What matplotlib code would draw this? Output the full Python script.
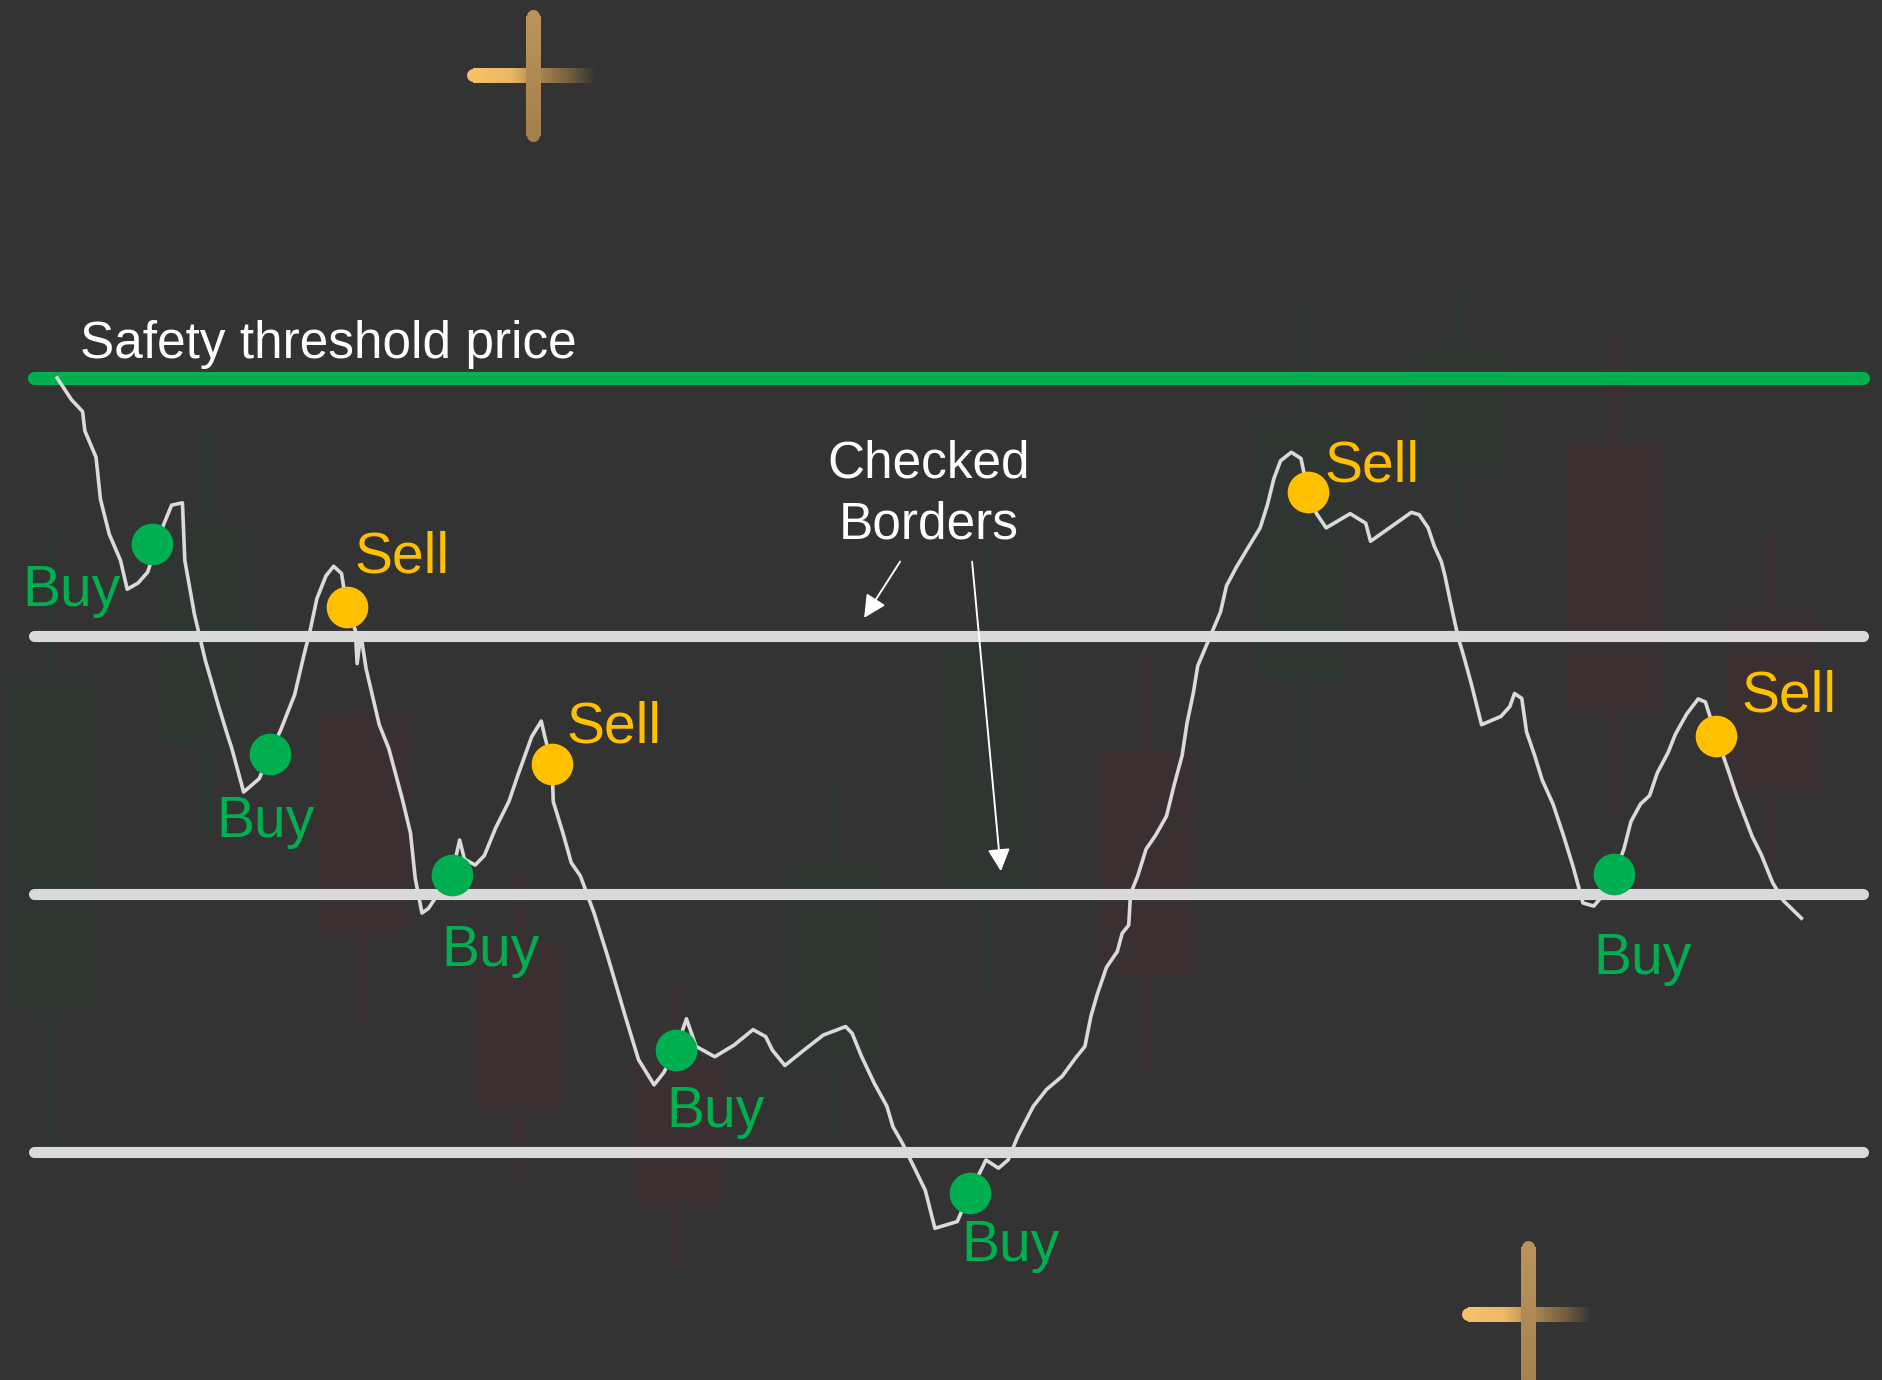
import numpy as np
import matplotlib.pyplot as plt
from matplotlib.collections import LineCollection
from matplotlib.colors import LinearSegmentedColormap

plt.rcParams['font.family'] = ['Liberation Sans', 'DejaVu Sans']

# --- price path (time units, price units) ---
time = [4.76, 5.95, 6.88, 7.07, 8.0, 8.37, 9.1, 10.04, 10.6, 11.5,
        12.3, 13.6, 14.3, 15.2, 15.4, 16.2, 17.1, 18.2, 19.0, 19.3,
        20.3, 21.6, 22.5, 23.4, 24.55, 25.3, 25.85, 26.4, 27.16, 27.8,
        28.46, 28.9, 29.6, 29.76, 30.06, 30.5, 31.6, 32.4, 33.5, 34.2,
        34.6, 35.16, 35.7, 36.3, 37.65, 38.3, 38.7, 39.6, 40.36, 41.3,
        42.4, 43.15, 44.3, 45.1, 45.4, 46.0, 46.1, 46.9, 47.6, 48.36,
        49.5, 50.6, 51.3, 52.1, 53.2, 54.5, 55.3, 56.3, 57.2, 58.0,
        59.56, 61.16, 62.75, 63.8, 64.35, 65.4, 67.0, 68.6, 70.46, 71.0,
        71.8, 72.85, 73.9, 74.4, 75.2, 76.0, 77.1, 77.9, 79.76, 80.8,
        81.9, 82.15, 83.2, 84.0, 84.8, 86.1, 87.2, 88.5, 89.6, 90.4,
        90.9, 91.45, 92.2, 93.1, 93.5, 94.05, 94.2, 94.8, 95.5, 96.3,
        97.2, 97.8, 98.5, 98.9, 99.44, 99.8, 100.74, 101.7, 102.2, 103.0,
        103.9, 105.0, 105.6, 106.14, 106.7, 107.6, 108.4, 109.0, 109.7, 110.5,
        112.5, 113.8, 114.2, 117.6, 118.25, 119.0, 119.5, 120.1, 120.4, 121.03,
        121.5, 122.0, 122.6, 123.45, 125.06, 125.8, 126.2, 126.8, 127.2, 127.85,
        128.5, 129.4, 130.3, 131.1, 131.9, 132.8, 133.4, 134.5, 135.3, 135.9,
        136.7, 137.45, 138.1, 139.0, 139.6, 140.55, 141.5, 142.1, 143.0, 144.0,
        144.7, 145.35, 146.0, 146.75, 147.7, 148.6, 150.1]
price = [300.0, 291.6, 287.0, 279.5, 269.3, 253.0, 239.5, 229.3, 218.1, 220.5,
         224.7, 242.8, 250.7, 251.6, 229.3, 208.4, 190.7, 173.0, 160.9, 156.7,
         139.5, 144.7, 154.4, 163.7, 177.2, 192.1, 202.3, 214.4, 223.3, 227.0,
         224.2, 211.2, 202.3, 189.3, 200.9, 187.4, 165.6, 156.3, 137.2, 123.7,
         106.0, 92.6, 94.4, 98.6, 107.4, 120.9, 113.5, 111.2, 114.9, 125.6,
         135.8, 146.0, 160.9, 167.0, 160.9, 150.2, 135.8, 123.7, 112.1, 107.0,
         92.6, 76.3, 65.3, 52.6, 35.8, 26.0, 30.7, 39.5, 51.6, 40.9,
         36.9, 41.4, 47.4, 44.7, 39.5, 33.5, 39.5, 45.3, 48.6, 46.0,
         36.9, 26.6, 17.7, 9.8, 3.3, -4.4, -14.9, -29.6, -27.0, -15.8,
         -5.6, -3.1, -6.3, -3.1, 6.0, 17.7, 24.2, 29.3, 36.3, 40.9,
         52.6, 61.4, 71.6, 77.7, 84.7, 87.9, 100.0, 107.0, 117.4, 122.8,
         130.2, 141.6, 153.7, 166.0, 178.1, 188.4, 198.7, 209.3, 219.5, 226.5,
         233.5, 241.9, 250.7, 260.9, 267.9, 271.2, 268.8, 255.8, 247.4, 241.9,
         247.4, 243.7, 236.7, 247.9, 247.0, 241.9, 234.9, 228.8, 223.3, 209.3,
         199.5, 191.6, 181.4, 165.6, 168.8, 172.6, 177.7, 175.8, 162.8, 154.0,
         144.2, 134.9, 122.3, 110.2, 96.5, 95.3, 98.6, 107.9, 117.2, 128.1,
         134.9, 138.1, 147.0, 154.9, 161.9, 169.8, 175.6, 174.4, 161.4, 147.9,
         138.1, 130.2, 122.3, 115.3, 104.4, 97.4, 90.6]

# --- levels ---
threshold = 300
borders = [200, 100, 0]

# --- signals ---
buy_t = [12.65, 22.5, 37.65, 56.3, 80.8, 134.5]
buy_p = [235.8, 154.4, 107.4, 39.5, -15.8, 107.9]
sell_t = [28.9, 46.0, 109.0, 143.0]
sell_p = [211.2, 150.2, 255.8, 161.4]

buy_label_t = [1.9, 18.0, 36.8, 55.5, 80.1, 132.8]
buy_label_p = [211.6, 121.9, 72.1, 9.8, -42.3, 68.8]
sell_label_t = [29.5, 47.2, 110.4, 145.1]
sell_label_p = [224.7, 158.6, 260.0, 170.7]

# --- faint background candles ---
candle_t = [4.3, 17.2, 30.3, 43.3, 56.5, 69.4, 82.4, 95.5, 108.4, 121.5, 134.5, 147.6]
candle_open = [54.4, 157.2, 170.7, 81.9, 34.9, 32.6, 102.8, 155.3, 183.3, 261.4, 274.9, 210.2]
candle_close = [184.7, 243.3, 85.6, 16.3, -20.0, 112.1, 195.3, 67.9, 283.7, 312.1, 171.6, 140.0]
candle_high = [240.5, 279.5, 172.0, 108.8, 66.0, 146.0, 236.7, 192.6, 327.0, 333.5, 317.2, 239.5]
candle_low = [2.3, 120.9, 48.8, -11.6, -45.1, 2.3, 62.8, 31.2, 140.9, 240.0, 127.9, 111.6]

BG = '#333333'
GREEN = '#00B050'
GOLD = '#FFC000'
LIGHT = '#D9D9D9'

fig = plt.figure(figsize=(18.83, 13.80), dpi=100)
fig.patch.set_facecolor(BG)
ax = fig.add_axes([0, 0, 1, 1])
ax.set_facecolor(BG)
ax.set_xlim(0, 156.9)
ax.set_ylim(-88.4, 446.5)
ax.axis('off')

# candles
o = np.array(candle_open)
c = np.array(candle_close)
hi = np.array(candle_high)
lo = np.array(candle_low)
ccol = np.where(c >= o, '#2f3632', '#3a2f31')
ax.bar(candle_t, hi - lo, bottom=lo, width=1.05, color=ccol, zorder=1)
ax.bar(candle_t, np.abs(c - o), bottom=np.minimum(o, c), width=7.8, color=ccol, zorder=1)

# horizontal levels
x0, x1 = 2.8, 155.2
ax.plot([x0, x1], [threshold, threshold], color=GREEN, lw=9.5,
        solid_capstyle='round', zorder=2)
for b in borders:
    ax.plot([x0, x1], [b, b], color=LIGHT, lw=8, solid_capstyle='round', zorder=2)

# price path
ax.plot(time, price, color='#DADADA', lw=2.6, solid_joinstyle='round', zorder=3)

# signals
ax.plot(buy_t, buy_p, 'o', ms=30, color=GREEN, mec='none', zorder=4)
ax.plot(sell_t, sell_p, 'o', ms=30, color=GOLD, mec='none', zorder=4)
for tx, py in zip(buy_label_t, buy_label_p):
    ax.text(tx, py, 'Buy', color=GREEN, fontsize=41, ha='left', va='baseline', zorder=5)
for tx, py in zip(sell_label_t, sell_label_p):
    ax.text(tx, py, 'Sell', color=GOLD, fontsize=41, ha='left', va='baseline', zorder=5)

# annotations
ax.text(6.7, 307.9, 'Safety threshold price', color='white', fontsize=37,
        ha='left', va='baseline', zorder=5)
ax.text(77.35, 261.4, 'Checked', color='white', fontsize=37, ha='center', va='baseline')
ax.text(77.4, 237.7, 'Borders', color='white', fontsize=37, ha='center', va='baseline')
arrow_kw = dict(arrowstyle='-|>', color='white', lw=1.4, mutation_scale=34,
                shrinkA=0, shrinkB=0)
ax.annotate('', xy=(72.0, 207.0), xytext=(75.0, 228.8), arrowprops=arrow_kw)
ax.annotate('', xy=(83.4, 108.8), xytext=(81.0, 228.8), arrowprops=arrow_kw)

# gold cross decorations
hcmap = LinearSegmentedColormap.from_list(
    'gold_h', [(0, '#F5C068'), (0.3, '#EDB863'), (0.5, '#B08A55'),
               (0.75, '#7d6440'), (1, BG)])
vcmap = LinearSegmentedColormap.from_list('gold_v', ['#BA935B', '#A57F4E'])


def gold_cross(cx, cy, hx0, hx1, vy0, vy1):
    n = 120
    xs = np.linspace(hx0, hx1, n + 1)
    segs = [[(xs[i], cy), (xs[i + 1], cy)] for i in range(n)]
    ax.add_collection(LineCollection(segs, colors=hcmap(np.linspace(0, 1, n)), lw=9.4,
                                     capstyle='butt', antialiaseds=False, zorder=6))
    ax.plot([hx0, hx0 + 0.3], [cy, cy], color=hcmap(0.0), lw=9.4,
            solid_capstyle='round', zorder=6)
    ys = np.linspace(vy0, vy1, n + 1)
    segs = [[(cx, ys[i]), (cx, ys[i + 1])] for i in range(n)]
    ax.add_collection(LineCollection(segs, colors=vcmap(np.linspace(0, 1, n)), lw=9.4,
                                     capstyle='butt', antialiaseds=False, zorder=7))
    ax.plot([cx, cx], [vy0, vy0 - 1], color=vcmap(0.0), lw=9.4,
            solid_capstyle='round', zorder=7)
    ax.plot([cx, cx], [vy1 + 1, vy1], color=vcmap(1.0), lw=9.4,
            solid_capstyle='round', zorder=7)


gold_cross(44.4, 417.3, 39.4, 49.7, 440.3, 394.1)
gold_cross(127.3, -62.8, 122.3, 132.7, -37.0, -95.0)

fig.savefig('out.png', dpi=100, facecolor=fig.get_facecolor())
